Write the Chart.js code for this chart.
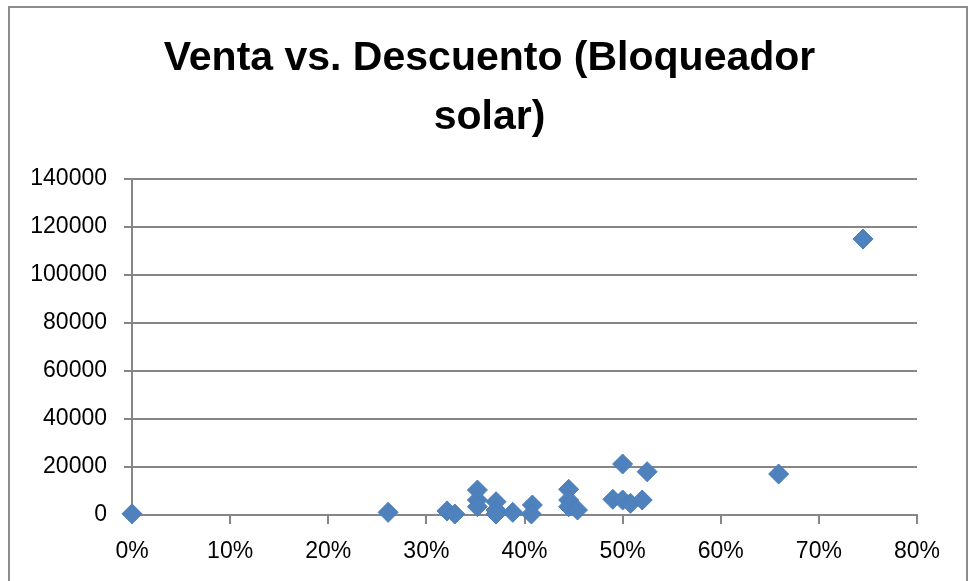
<!DOCTYPE html>
<html>
<head>
<meta charset="utf-8">
<script src="https://cdn.jsdelivr.net/npm/chart.js@4.4.1/dist/chart.umd.min.js"></script>
<style>
  html, body { margin: 0; padding: 0; background: #ffffff; }
  #wrap { position: relative; width: 969px; height: 581px; }
</style>
</head>
<body>
<div id="wrap"><canvas id="c" width="969" height="581"></canvas></div>
<script>
// Descuento (fraction) vs. Venta for the sunscreen product
const descuento = [0.000, 0.261, 0.321, 0.329, 0.352, 0.352, 0.352, 0.371, 0.371, 0.371,
                   0.388, 0.408, 0.407, 0.445, 0.445, 0.445, 0.454, 0.490, 0.500, 0.500,
                   0.508, 0.520, 0.525, 0.659, 0.745];
const venta = [500, 1100, 1700, 400, 10400, 6250, 3460, 5540, 2080, 400,
               1100, 4170, 400, 10700, 6250, 3460, 2080, 6540, 21250, 6250,
               4870, 6250, 18040, 17080, 115000];
const titleLines = ['Venta vs. Descuento (Bloqueador', 'solar)'];
const xTicks = [0, 0.1, 0.2, 0.3, 0.4, 0.5, 0.6, 0.7, 0.8];
const yTicks = [0, 20000, 40000, 60000, 80000, 100000, 120000, 140000];

const points = descuento.map((d, i) => ({ x: d, y: venta[i] }));

const FONT = "'Liberation Sans', Arial, sans-serif";
const GRID = '#868686';

// Frame around the chart object
const framePlugin = {
  id: 'frame',
  beforeDraw(chart) {
    const ctx = chart.ctx;
    ctx.save();
    ctx.fillStyle = '#ffffff';
    ctx.fillRect(0, 0, chart.width, chart.height);
    ctx.strokeStyle = '#8c8c8c';
    ctx.lineWidth = 2;
    ctx.beginPath();
    ctx.moveTo(9, chart.height + 5);
    ctx.lineTo(9, 7);
    ctx.lineTo(967, 7);
    ctx.lineTo(967, chart.height + 5);
    ctx.stroke();
    ctx.restore();
  }
};

new Chart(document.getElementById('c'), {
  type: 'scatter',
  data: {
    datasets: [{
      label: 'Venta',
      data: points,
      clip: false,
      pointStyle: 'rectRot',
      pointRadius: 10,
      pointHoverRadius: 10,
      backgroundColor: '#4F81BD',
      borderColor: '#4A7EBB',
      borderWidth: 1
    }]
  },
  plugins: [framePlugin],
  options: {
    responsive: false,
    animation: false,
    layout: { padding: { left: 10, right: 0, top: 0, bottom: 0 } },
    plugins: {
      legend: { display: false },
      tooltip: { enabled: false },
      title: {
        display: true,
        text: titleLines,
        color: '#000000',
        font: { family: FONT, size: 41, weight: 'bold', lineHeight: 1.44 },
        padding: { top: 29, bottom: 32 }
      }
    },
    scales: {
      x: {
        type: 'linear',
        min: 0,
        max: 0.8,
        afterBuildTicks(scale) { scale.ticks = xTicks.map(v => ({ value: v })); },
        afterFit(scale) { scale.height = 66; },
        border: { display: true, color: GRID, width: 2 },
        grid: { display: true, drawOnChartArea: false, drawTicks: true, tickLength: 9, color: GRID, lineWidth: 2 },
        ticks: {
          padding: 14,
          color: '#000000',
          font: { family: FONT, size: 23 },
          callback: v => Math.round(v * 100) + '%'
        }
      },
      y: {
        type: 'linear',
        min: 0,
        max: 140000,
        afterBuildTicks(scale) { scale.ticks = yTicks.map(v => ({ value: v })); },
        afterFit(scale) { scale.width = 122; },
        border: { display: true, color: GRID, width: 2 },
        grid: { display: true, drawOnChartArea: true, drawTicks: true, tickLength: 8, color: GRID, lineWidth: 2 },
        ticks: {
          padding: 17,
          color: '#000000',
          font: { family: FONT, size: 23 },
          callback: v => String(v)
        }
      },
      // empty right-hand gutter so the title stays centred on the whole frame
      gutter: {
        type: 'linear',
        position: 'right',
        min: 0,
        max: 1,
        afterFit(scale) { scale.width = 52; },
        border: { display: false },
        grid: { display: false, drawTicks: false },
        ticks: { display: false }
      }
    }
  }
});
</script>
</body>
</html>
